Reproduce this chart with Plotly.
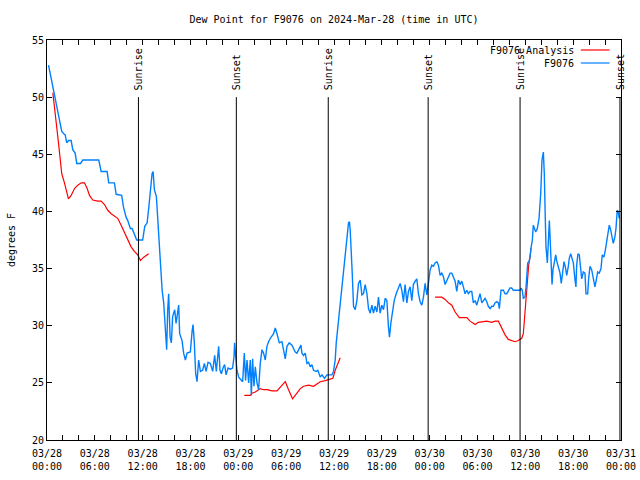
import plotly.graph_objects as go
from datetime import datetime, timedelta

BASE = datetime(2024, 3, 28)

# Observed station dew point (hours since 2024-03-28 00:00 UTC, deg F)
obs_hours = [0.19, 0.60, 0.94, 1.28, 1.57, 1.85, 2.11, 2.28, 2.48, 2.69, 3.03, 3.23, 3.53, 3.73, 4.20, 4.49,
             6.49, 6.79, 7.54, 7.74, 8.46, 8.67, 9.37, 9.59, 9.92, 10.13, 10.46, 10.68, 11.25, 11.80, 12.00,
             12.26, 12.56, 12.76, 12.97, 13.18, 13.31, 13.47, 13.72, 13.93, 14.14, 14.44, 14.64, 14.85, 15.01,
             15.14, 15.26, 15.44, 15.60, 15.76, 16.02, 16.19, 16.35, 16.52, 16.64, 16.94, 17.14, 17.36, 17.57,
             17.98, 18.20, 18.32, 18.48, 18.65, 18.82, 19.02, 19.24, 19.52, 19.74, 19.95, 20.20, 20.49, 20.78,
             21.03, 21.24, 21.53, 21.70, 21.87, 22.08, 22.28, 22.46, 22.71, 23.00, 23.28, 23.46, 23.53, 23.71,
             23.83, 24.04, 24.34, 24.54, 24.75, 24.91, 25.09, 25.29, 25.50, 25.63, 25.79, 25.96, 26.13, 26.34,
             26.54, 26.75, 26.97, 27.17, 27.38, 27.59, 27.79, 28.01, 28.42, 28.63, 28.85, 29.14, 29.47, 29.67,
             29.89, 30.10, 30.39, 30.73, 30.93, 31.14, 31.35, 31.55, 31.85, 31.98, 32.18, 32.39, 32.61, 32.81,
             33.02, 33.23, 33.43, 33.77, 33.98, 34.27, 34.49, 34.81, 35.11, 35.44, 35.74, 35.94, 36.15, 36.28,
             36.44, 36.69, 36.90, 37.12, 37.32, 37.53, 37.69, 37.82, 37.94, 38.03, 38.28, 38.45, 38.66, 38.87,
             39.07, 39.29, 39.50, 39.70, 39.91, 40.13, 40.33, 40.54, 40.75, 40.95, 41.16, 41.38, 41.58, 41.79,
             42.00, 42.21, 42.42, 42.63, 42.83, 42.96, 43.13, 43.33, 43.55, 43.80, 44.09, 44.30, 44.51, 44.71,
             44.92, 45.14, 45.34, 45.55, 45.76, 45.96, 46.18, 46.39, 46.59, 46.80, 47.02, 47.22, 47.43, 47.64,
             47.84, 48.06, 48.27, 48.47, 48.68, 48.90, 49.10, 49.31, 49.52, 49.72, 49.94, 50.15, 50.35, 50.56,
             50.78, 50.98, 51.19, 51.40, 51.60, 51.82, 52.03, 52.23, 52.44, 52.66, 52.86, 53.07, 53.28, 53.48,
             53.70, 53.91, 54.11, 54.32, 54.54, 54.74, 54.95, 55.16, 55.36, 55.58, 55.79, 55.99, 56.20, 56.42,
             56.62, 56.74, 56.95, 57.24, 57.46, 57.67, 57.87, 58.08, 58.29, 58.50, 58.92, 59.34, 59.46, 59.62,
             59.75, 59.96, 60.09, 60.18, 60.30, 60.46, 60.59, 60.71, 60.88, 61.00, 61.13, 61.30, 61.50, 61.72,
             61.93, 62.09, 62.26, 62.38, 62.47, 62.59, 62.76, 62.88, 63.01, 63.10, 63.22, 63.35, 63.47, 63.63,
             63.81, 63.93, 64.14, 64.35, 64.51, 64.69, 64.85, 65.01, 65.19, 65.39, 65.51, 65.69, 65.81, 66.02,
             66.23, 66.35, 66.44, 66.60, 66.77, 66.94, 67.07, 67.27, 67.48, 67.61, 67.82, 67.94, 68.11, 68.32,
             68.52, 68.73, 68.90, 69.07, 69.27, 69.49, 69.65, 69.86, 70.03, 70.20, 70.40, 70.53, 70.70, 70.83,
             71.03, 71.24, 71.37, 71.53, 71.65, 71.78]
obs_dewpt = [52.8, 51.5, 50.2, 49.0, 48.0, 47.0, 46.8, 46.7, 46.0, 46.2, 46.2, 45.4, 45.1, 44.2, 44.2, 44.5,
             44.5, 43.5, 43.5, 42.5, 42.5, 41.5, 41.4, 40.4, 39.5, 39.2, 38.5, 38.5, 37.5, 37.5, 37.5,
             38.7, 39.0, 40.3, 42.2, 43.3, 43.5, 41.9, 41.3, 38.7, 36.0, 33.1, 32.0, 29.9, 27.9,
             31.4, 32.8, 29.0, 28.5, 30.8, 31.4, 30.2, 31.2, 31.8, 29.3, 28.7, 27.6, 27.0, 27.6,
             27.7, 29.5, 30.1, 28.5, 25.8, 25.1, 27.0, 26.0, 26.1, 26.7, 26.0, 26.8, 26.7, 26.0,
             27.4, 26.0, 28.2, 26.1, 25.8, 26.3, 26.6, 25.7, 26.3, 26.2, 26.3, 27.3, 28.5, 27.0,
             26.1, 25.5, 25.2, 25.1, 27.6, 25.2, 27.0, 25.0, 27.0, 23.9, 27.1, 24.7, 26.4, 25.0,
             24.4, 26.7, 27.9, 27.6, 27.0, 28.2, 28.6, 28.9, 29.3, 29.8, 29.3, 28.5, 28.6, 27.9,
             27.1, 28.2, 28.5, 28.3, 28.0, 27.7, 27.6, 27.9, 28.3, 27.6, 27.4, 27.6, 26.7, 26.8,
             26.4, 26.6, 26.1, 26.0, 26.1, 25.5, 25.7, 25.4, 25.7, 25.7, 25.7, 26.0, 27.0, 28.5,
             29.6, 31.1, 32.5, 34.0, 35.7, 36.9, 38.1, 39.0, 39.1, 38.4, 34.7, 31.7, 31.4, 32.2,
             33.7, 34.0, 32.7, 32.8, 33.6, 32.8, 31.5, 31.1, 31.8, 31.1, 31.7, 31.2, 32.5, 31.1,
             31.8, 31.4, 32.4, 32.2, 29.9, 29.0, 30.2, 31.4, 32.2, 32.8, 33.4, 33.7, 33.1, 32.1,
             33.6, 32.0, 33.0, 33.4, 32.2, 33.6, 33.9, 34.1, 32.8, 32.1, 31.8, 32.5, 33.7, 32.7,
             33.7, 34.9, 35.3, 35.2, 35.5, 35.6, 35.3, 34.4, 34.6, 34.3, 33.6, 34.0, 34.3, 34.6,
             34.6, 34.3, 33.9, 33.0, 34.0, 33.6, 33.9, 33.4, 32.8, 33.1, 32.8, 33.0, 33.0, 32.0,
             32.2, 31.8, 32.2, 32.8, 32.0, 32.2, 32.4, 32.1, 31.7, 31.5, 31.7, 31.7, 32.0, 32.1,
             32.0, 31.5, 33.1, 33.1, 32.8, 32.8, 33.1, 33.3, 33.3, 33.1, 33.1, 33.1, 33.3, 33.1,
             32.4, 32.5, 33.4, 34.6, 35.5, 35.6, 36.0, 36.8, 37.5, 38.8, 38.5, 38.2, 38.5, 39.4,
             41.6, 44.5, 45.2, 43.3, 40.4, 36.9, 35.5, 38.1, 39.2, 37.8, 35.2, 33.6, 34.9, 35.7,
             36.2, 35.7, 35.0, 34.6, 33.7, 35.0, 35.6, 35.2, 34.4, 35.2, 35.9, 36.3, 35.9, 35.5,
             34.0, 33.4, 35.3, 36.3, 36.2, 35.2, 34.1, 34.7, 34.6, 32.8, 32.8, 34.1, 35.2, 34.9,
             34.0, 33.4, 34.0, 34.7, 34.6, 35.0, 36.2, 36.0, 36.6, 37.4, 38.5, 38.8, 38.4, 37.9,
             37.2, 37.8, 38.5, 40.1, 40.0, 39.4]

# Analysis dew point (None marks gaps)
ana_hours = [0.73, 0.94, 1.15, 1.44, 1.65, 1.85, 2.19, 2.41, 2.69, 3.03, 3.45, 3.86, 4.29, 4.70, 5.04, 5.33,
             5.74, 6.37, 6.79, 7.21, 7.62, 8.05, 8.46, 8.87, 9.30, 9.71, 10.13, 10.55, 10.96, 11.38, 11.72,
             12.13, 12.76, None,
             24.75, 25.50, 25.71, 26.13, 26.75, 27.17, 27.59, 28.22, 28.85, 29.26, 29.89, 30.30, 30.80, 31.35,
             31.77, 32.18, 32.81, 33.43, 33.86, 34.27, 34.90, 35.53, 35.86, 36.15, 36.44, 36.78, None,
             48.68, 49.10, 49.52, 49.94, 50.35, 50.78, 51.19, 51.73, 52.23, 52.66, 53.07, 53.70, 54.11, 54.74,
             55.16, 55.79, 56.20, 56.62, 57.04, 57.46, 57.87, 58.29, 58.71, 59.12, 59.55, 59.75, 59.87, 60.05,
             60.18, 60.30, 60.42, 60.59, 60.71]
ana_dewpt = [50.4, 49.3, 47.8, 46.0, 44.4, 43.3, 42.5, 41.9, 41.1, 41.4, 42.0, 42.3, 42.5, 42.5, 42.0, 41.4,
             41.0, 40.9, 40.9, 40.6, 40.1, 39.8, 39.6, 39.4, 38.8, 38.2, 37.5, 36.9, 36.5, 36.2, 35.7,
             36.0, 36.3, None,
             23.9, 23.9, 24.1, 24.2, 24.5, 24.4, 24.4, 24.3, 24.3, 24.6, 25.1, 24.4, 23.6, 24.1,
             24.5, 24.7, 24.8, 24.7, 24.9, 25.1, 25.2, 25.35, 25.4, 26.1, 26.6, 27.2, None,
             32.5, 32.5, 32.5, 32.3, 32.0, 31.8, 31.2, 30.7, 30.7, 30.7, 30.4, 30.1, 30.3, 30.4,
             30.4, 30.3, 30.4, 30.4, 29.8, 29.2, 28.8, 28.7, 28.6, 28.7, 28.9, 29.3, 30.4, 31.4,
             32.8, 34.0, 35.3, 36.0, 36.8]

# Sunrise / sunset (hours since start)
sun_hours = [11.47, 23.75, 35.28, 47.81, 59.34, 71.87]
sun_labels = ["Sunrise", "Sunset", "Sunrise", "Sunset", "Sunrise", "Sunset"]
sun_line_top = 50.0

y_ticks = [20, 25, 30, 35, 40, 45, 50, 55]

series_names = ["F9076 Analysis", "F9076"]
series_colors = ["#ff0000", "#0080ff"]


def to_time(hours):
    return [None if h is None else BASE + timedelta(hours=h) for h in hours]


FONT = "DejaVu Sans Mono"

fig = go.Figure()
fig.add_trace(go.Scatter(x=to_time(ana_hours), y=ana_dewpt, mode="lines", name=series_names[0],
                         line=dict(color=series_colors[0], width=1.2), showlegend=False))
fig.add_trace(go.Scatter(x=to_time(obs_hours), y=obs_dewpt, mode="lines", name=series_names[1],
                         line=dict(color=series_colors[1], width=1.4), showlegend=False))

shapes = []
annotations = []
for h, lab in zip(sun_hours, sun_labels):
    t = BASE + timedelta(hours=h)
    shapes.append(dict(type="line", xref="x", yref="y", x0=t, x1=t, y0=20, y1=sun_line_top,
                       line=dict(color="black", width=1)))
    annotations.append(dict(x=t, y=sun_line_top + 0.45, xref="x", yref="y", text=lab, textangle=-90,
                            showarrow=False, xanchor="center", yanchor="bottom",
                            font=dict(family=FONT, size=10, color="black")))

# manual gnuplot-style legend (text right, sample line after)
leg_y = [0.975, 0.9425]
for i, (name, col) in enumerate(zip(series_names, series_colors)):
    annotations.append(dict(x=0.922, y=leg_y[i], xref="paper", yref="paper", text=name, showarrow=False,
                            xanchor="right", yanchor="middle", font=dict(family=FONT, size=10, color="black")))
    shapes.append(dict(type="line", xref="paper", yref="paper", x0=0.93, x1=0.98, y0=leg_y[i], y1=leg_y[i],
                       line=dict(color=col, width=1.2)))

fig.update_layout(
    width=640, height=480,
    margin=dict(l=47, r=19, t=40, b=40, autoexpand=False),
    paper_bgcolor="white", plot_bgcolor="white",
    font=dict(family=FONT, size=10, color="black"),
    title=dict(text="Dew Point for F9076 on 2024-Mar-28 (time in UTC)", x=0.5, xref="paper",
               xanchor="center", y=0.96, yanchor="middle", yref="container",
               font=dict(family=FONT, size=10, color="black")),
    shapes=shapes, annotations=annotations,
)

fig.update_xaxes(type="date", range=[BASE, BASE + timedelta(hours=72)], automargin=False,
                 dtick=6 * 3600 * 1000, tick0=BASE, tickformat="%m/%d<br>%H:%M",
                 showgrid=False, zeroline=False, showline=True, linecolor="black", linewidth=1,
                 mirror="ticks", ticks="inside", ticklen=5, tickcolor="black", ticklabelstandoff=4,
                 minor=dict(dtick=2 * 3600 * 1000, ticks="inside", ticklen=5, tickcolor="black"),
                 tickfont=dict(family=FONT, size=10, color="black"))
fig.update_yaxes(range=[20, 55], tickvals=y_ticks, showgrid=False, zeroline=False, showline=True,
                 automargin=False,
                 linecolor="black", linewidth=1, mirror="ticks", ticks="inside", ticklen=5, tickcolor="black",
                 title=dict(text="degrees F", font=dict(family=FONT, size=10, color="black"), standoff=14),
                 tickfont=dict(family=FONT, size=10, color="black"))

fig.write_html("out.html", config={"displayModeBar": False},
               post_script="document.body.style.margin='0';document.body.style.overflow='hidden';")
